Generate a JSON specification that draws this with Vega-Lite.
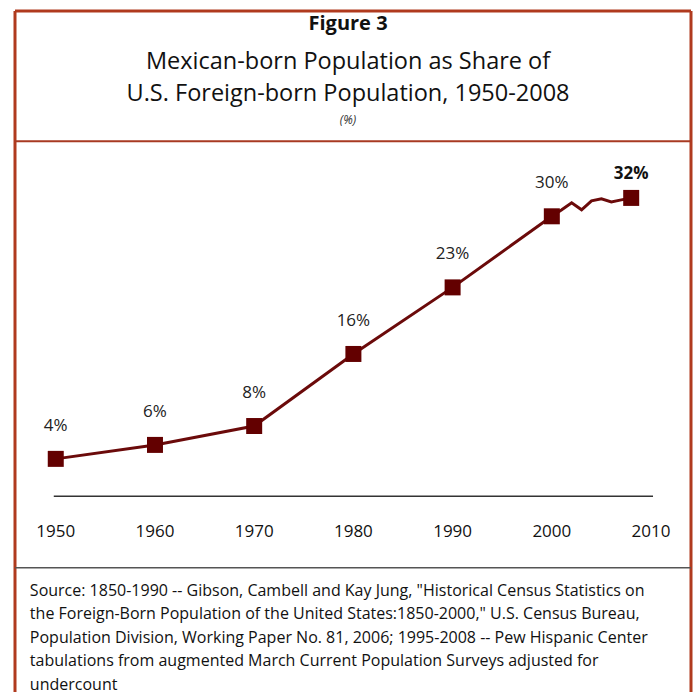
{
  "$schema": "https://vega.github.io/schema/vega-lite/v6.json",
  "width": 696,
  "height": 694,
  "autosize": {"type": "fit", "contains": "padding"},
  "padding": {"left": 13, "top": 9, "right": 3, "bottom": 0},
  "background": "white",
  "config": {
    "view": {"stroke": null},
    "font": "Open Sans"
  },
  "datasets": {
    "share": [
      {"year": 1950, "share": 5.33, "label": "4%"},
      {"year": 1960, "share": 6.75, "label": "6%"},
      {"year": 1970, "share": 8.67, "label": "8%"},
      {"year": 1980, "share": 16.0, "label": "16%"},
      {"year": 1990, "share": 22.77, "label": "23%"},
      {"year": 2000, "share": 30.0, "label": "30%"},
      {"year": 2001, "share": 30.66, "label": null},
      {"year": 2002, "share": 31.37, "label": null},
      {"year": 2003, "share": 30.66, "label": null},
      {"year": 2004, "share": 31.57, "label": null},
      {"year": 2005, "share": 31.77, "label": null},
      {"year": 2006, "share": 31.47, "label": null},
      {"year": 2007, "share": 31.67, "label": null},
      {"year": 2008, "share": 31.87, "label": "32%"}
    ],
    "ticks": [
      {"year": 1950}, {"year": 1960}, {"year": 1970}, {"year": 1980},
      {"year": 1990}, {"year": 2000}, {"year": 2010}
    ],
    "one": [{}]
  },
  "layer": [
    {
      "data": {"name": "share"},
      "mark": {"type": "line", "color": "#6b0a0a", "strokeWidth": 3},
      "encoding": {
        "x": {"field": "year", "type": "quantitative", "scale": {"domain": [1945.892, 2014.028], "nice": false, "zero": false}, "axis": null},
        "y": {"field": "share", "type": "quantitative", "scale": {"domain": [-18.38, 50.88], "nice": false, "zero": false}, "axis": null}
      }
    },
    {
      "data": {"name": "one"},
      "mark": {"type": "rule", "color": "#b03a1e", "strokeWidth": 3},
      "encoding": {"x": {"datum": 1945.892, "type": "quantitative"}}
    },
    {
      "data": {"name": "one"},
      "mark": {"type": "rule", "color": "#b03a1e", "strokeWidth": 3},
      "encoding": {"x": {"datum": 2014.028, "type": "quantitative"}}
    },
    {
      "data": {"name": "one"},
      "mark": {"type": "rule", "color": "#b03a1e", "strokeWidth": 3},
      "encoding": {"y": {"datum": 50.88, "type": "quantitative"}}
    },
    {
      "data": {"name": "one"},
      "mark": {"type": "rule", "color": "#a83a22", "strokeWidth": 2},
      "encoding": {"y": {"datum": 37.64, "type": "quantitative"}}
    },
    {
      "data": {"name": "one"},
      "mark": {"type": "rule", "color": "#555555", "strokeWidth": 1.5},
      "encoding": {"y": {"datum": -5.74, "type": "quantitative"}}
    },
    {
      "data": {"name": "one"},
      "mark": {"type": "rule", "color": "#333333", "strokeWidth": 1.5},
      "encoding": {
        "x": {"datum": 1949.8, "type": "quantitative"},
        "x2": {"datum": 2010.2},
        "y": {"datum": 1.54, "type": "quantitative"}
      }
    },
    {
      "data": {"name": "one"},
      "mark": {"type": "text", "fontSize": 20, "fontWeight": "bold", "color": "#111111", "baseline": "middle"},
      "encoding": {
        "x": {"datum": 1979.46, "type": "quantitative"},
        "y": {"datum": 49.57, "type": "quantitative"},
        "text": {"value": "Figure 3"}
      }
    },
    {
      "data": {"name": "one"},
      "mark": {"type": "text", "fontSize": 23.5, "color": "#111111", "baseline": "middle"},
      "encoding": {
        "x": {"datum": 1979.46, "type": "quantitative"},
        "y": {"datum": 45.73, "type": "quantitative"},
        "text": {"value": "Mexican-born Population as Share of"}
      }
    },
    {
      "data": {"name": "one"},
      "mark": {"type": "text", "fontSize": 23.5, "color": "#111111", "baseline": "middle"},
      "encoding": {
        "x": {"datum": 1979.46, "type": "quantitative"},
        "y": {"datum": 42.39, "type": "quantitative"},
        "text": {"value": "U.S. Foreign-born Population, 1950-2008"}
      }
    },
    {
      "data": {"name": "one"},
      "mark": {"type": "text", "fontSize": 12, "fontStyle": "italic", "color": "#333333", "baseline": "middle"},
      "encoding": {
        "x": {"datum": 1979.46, "type": "quantitative"},
        "y": {"datum": 39.76, "type": "quantitative"},
        "text": {"value": "(%)"}
      }
    },
    {
      "data": {"name": "share"},
      "transform": [{"filter": "datum.label != null"}],
      "mark": {"type": "point", "shape": "square", "filled": true, "size": 256, "color": "#630000", "opacity": 1},
      "encoding": {
        "x": {"field": "year", "type": "quantitative"},
        "y": {"field": "share", "type": "quantitative"}
      }
    },
    {
      "data": {"name": "share"},
      "transform": [{"filter": "datum.label != null && datum.year != 2008"}],
      "mark": {"type": "text", "fontSize": 17, "color": "#222222", "baseline": "middle", "dy": -33},
      "encoding": {
        "x": {"field": "year", "type": "quantitative"},
        "y": {"field": "share", "type": "quantitative"},
        "text": {"field": "label"}
      }
    },
    {
      "data": {"name": "share"},
      "transform": [{"filter": "datum.year == 2008"}],
      "mark": {"type": "text", "fontSize": 17, "fontWeight": "bold", "color": "#111111", "baseline": "middle", "dy": -24},
      "encoding": {
        "x": {"field": "year", "type": "quantitative"},
        "y": {"field": "share", "type": "quantitative"},
        "text": {"field": "label"}
      }
    },
    {
      "data": {"name": "ticks"},
      "mark": {"type": "text", "fontSize": 17, "color": "#111111", "baseline": "middle"},
      "encoding": {
        "x": {"field": "year", "type": "quantitative"},
        "y": {"datum": -2.1, "type": "quantitative"},
        "text": {"field": "year", "type": "quantitative", "format": "d"}
      }
    },
    {
      "data": {"name": "one"},
      "mark": {"type": "text", "fontSize": 16, "color": "#111111", "align": "left", "baseline": "alphabetic", "lineHeight": 23.5},
      "encoding": {
        "x": {"datum": 1947.39, "type": "quantitative"},
        "y": {"datum": -8.57, "type": "quantitative"},
        "text": {"value": [
          "Source: 1850-1990 -- Gibson, Cambell and Kay Jung, \"Historical Census Statistics on",
          "the Foreign-Born Population of the United States:1850-2000,\" U.S. Census Bureau,",
          "Population Division, Working Paper No. 81, 2006; 1995-2008 -- Pew Hispanic Center",
          "tabulations from augmented March Current Population Surveys adjusted for",
          "undercount"
        ]}
      }
    }
  ]
}
